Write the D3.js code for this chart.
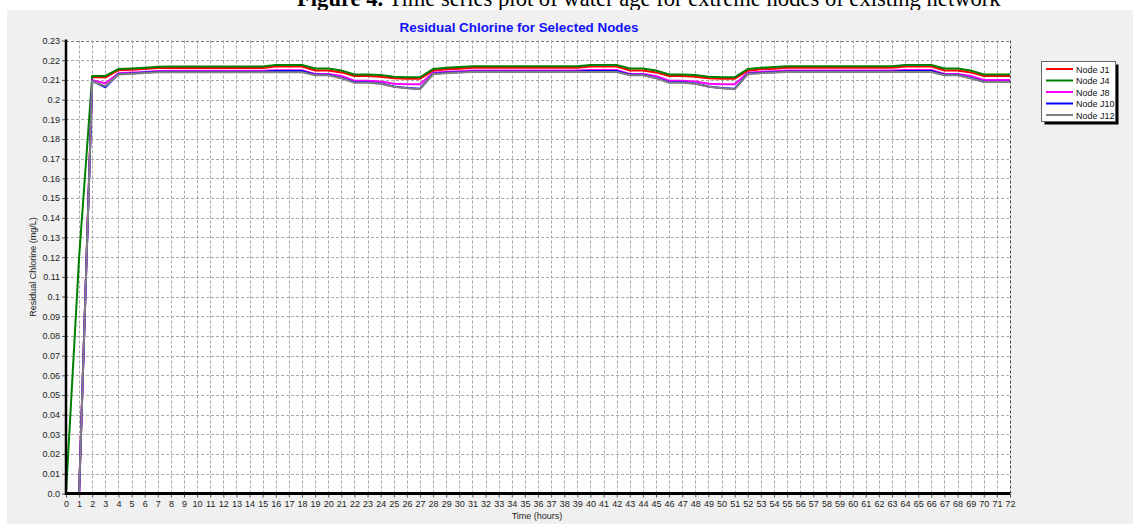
<!DOCTYPE html>
<html><head><meta charset="utf-8">
<script src="https://cdn.jsdelivr.net/npm/d3@7"></script>
<style>body{margin:0;background:#fff;overflow:hidden}svg{display:block}</style>
</head><body>
<svg id="c" width="1133" height="524"></svg>
<script>
const hours = [0,1,2,3,4,5,6,7,8,9,10,11,12,13,14,15,16,17,18,19,20,21,22,23,24,25,26,27,28,29,30,31,32,33,34,35,36,37,38,39,40,41,42,43,44,45,46,47,48,49,50,51,52,53,54,55,56,57,58,59,60,61,62,63,64,65,66,67,68,69,70,71,72];
const nodeJ1 = [0,0,0.2115,0.2112,0.2149,0.2152,0.2155,0.216,0.2161,0.2161,0.2161,0.2161,0.2161,0.2161,0.2161,0.2161,0.2168,0.2168,0.2168,0.2148,0.2148,0.2138,0.212,0.212,0.2116,0.2108,0.2106,0.2106,
 0.2147,0.2154,0.2157,0.2162,0.2162,0.2162,0.2162,0.2162,0.2162,0.2162,0.2162,0.2162,0.2168,0.2168,0.2168,0.2148,0.2148,0.2138,0.212,0.212,0.2116,0.2108,0.2106,0.2106,
 0.2147,0.2154,0.2157,0.2162,0.2162,0.2162,0.2162,0.2162,0.2162,0.2162,0.2162,0.2162,0.2168,0.2168,0.2168,0.2148,0.2148,0.2138,0.212,0.212,0.212];
const nodeJ4 = [0,0.12,0.212,0.212,0.2155,0.2158,0.2162,0.2167,0.2168,0.2168,0.2168,0.2168,0.2168,0.2168,0.2168,0.2168,0.2176,0.2176,0.2176,0.2158,0.2158,0.2148,0.2128,0.2128,0.2125,0.2116,0.2113,0.2113,
 0.2155,0.2162,0.2165,0.2169,0.2169,0.2169,0.2169,0.2169,0.2169,0.2169,0.2169,0.2169,0.2176,0.2176,0.2176,0.2158,0.2158,0.2148,0.2128,0.2128,0.2125,0.2116,0.2113,0.2113,
 0.2155,0.2162,0.2165,0.2169,0.2169,0.2169,0.2169,0.2169,0.2169,0.2169,0.2169,0.2169,0.2176,0.2176,0.2176,0.2158,0.2158,0.2148,0.2128,0.2128,0.2128];
const nodeJ8 = [0,0,0.2098,0.2083,0.2134,0.2137,0.214,0.2145,0.2147,0.2147,0.2147,0.2147,0.2147,0.2147,0.2147,0.2147,0.2149,0.2149,0.2149,0.213,0.213,0.212,0.2096,0.2096,0.2092,0.2081,0.2078,0.2078,
 0.2137,0.2141,0.2144,0.2148,0.2148,0.2148,0.2148,0.2148,0.2148,0.2148,0.2148,0.2148,0.215,0.215,0.215,0.213,0.213,0.212,0.2096,0.2096,0.2092,0.2081,0.2078,0.2078,
 0.2137,0.2141,0.2144,0.2148,0.2148,0.2148,0.2148,0.2148,0.2148,0.2148,0.2148,0.2148,0.215,0.215,0.215,0.213,0.213,0.212,0.2100,0.2100,0.2100];
const nodeJ10 = [0,0,0.2095,0.2062,0.213,0.2133,0.2137,0.2141,0.2141,0.2141,0.2141,0.2141,0.2141,0.2141,0.2141,0.2141,0.2145,0.2145,0.2145,0.2126,0.2126,0.211,0.2088,0.2088,0.2082,0.2067,0.2059,0.2055,
 0.2131,0.2136,0.2139,0.2142,0.2142,0.2142,0.2142,0.2142,0.2142,0.2142,0.2142,0.2142,0.2145,0.2145,0.2145,0.2126,0.2126,0.211,0.2088,0.2088,0.2082,0.2067,0.2059,0.2055,
 0.2131,0.2136,0.2139,0.2142,0.2142,0.2142,0.2142,0.2142,0.2142,0.2142,0.2142,0.2142,0.2145,0.2145,0.2145,0.2126,0.2126,0.211,0.2091,0.2091,0.2091];
const nodeJ12 = [0,0,0.2093,0.2069,0.2128,0.2131,0.2135,0.2139,0.2139,0.2139,0.2139,0.2139,0.2139,0.2139,0.2139,0.2139,0.2139,0.2139,0.2139,0.2124,0.2124,0.2108,0.2086,0.2086,0.208,0.2065,0.2057,0.2053,
 0.213,0.2134,0.2137,0.214,0.214,0.214,0.214,0.214,0.214,0.214,0.214,0.214,0.214,0.214,0.214,0.2124,0.2124,0.2108,0.2086,0.2086,0.208,0.2065,0.2057,0.2053,
 0.213,0.2134,0.2137,0.214,0.214,0.214,0.214,0.214,0.214,0.214,0.214,0.214,0.214,0.214,0.214,0.2124,0.2124,0.2108,0.2089,0.2089,0.2089];
const seriesNames = ["Node J1","Node J4","Node J8","Node J10","Node J12"];
const seriesColors = ["#ff0000","#008000","#ff00ff","#0000ff","#808080"];
const yTicks = [0,0.01,0.02,0.03,0.04,0.05,0.06,0.07,0.08,0.09,0.1,0.11,0.12,0.13,0.14,0.15,0.16,0.17,0.18,0.19,0.2,0.21,0.22,0.23];
const yTickLabels = ["0.0","0.01","0.02","0.03","0.04","0.05","0.06","0.07","0.08","0.09","0.1","0.11","0.12","0.13","0.14","0.15","0.16","0.17","0.18","0.19","0.2","0.21","0.22","0.23"];
const chartTitle = "Residual Chlorine for Selected Nodes";
const xTitle = "Time (hours)";
const yTitle = "Residual Chlorine (mg/L)";
const caption = ["Figure 4.", " Time series plot of water age for extreme nodes of existing network"];

const series = [nodeJ1,nodeJ4,nodeJ8,nodeJ10,nodeJ12];
const svg = d3.select("#c");
const L = 66, R = 1010, T = 40.5, B = 493.5;
const x = d3.scaleLinear().domain([0,72]).range([L,R]);
const y = d3.scaleLinear().domain([0,0.23]).range([B,T]);

// caption (cut off at top, as in the source figure)
const cap = svg.append("text").attr("x",297).attr("y",6).attr("font-family","Liberation Serif").attr("font-size",22.6).attr("fill","#000");
cap.append("tspan").attr("font-weight","bold").text(caption[0]);
cap.append("tspan").text(caption[1]);

// chart background
svg.append("rect").attr("x",7).attr("y",10).attr("width",1126).attr("height",514).attr("fill","#f0f0f0");
svg.append("rect").attr("x",L).attr("y",T).attr("width",R-L).attr("height",B-T).attr("fill","#fff");

// grid
const g = svg.append("g");
g.selectAll(".hg").data(yTicks.slice(1)).join("line")
  .attr("x1",L).attr("x2",R).attr("y1",d=>Math.round(y(d))+0.5).attr("y2",d=>Math.round(y(d))+0.5)
  .attr("stroke",d=>d===0.23?"#777":"#a8a8a8").attr("stroke-dasharray","3,2");
g.selectAll(".vg").data(hours.slice(1)).join("line")
  .attr("y1",T).attr("y2",B).attr("x1",d=>Math.round(x(d))+0.5).attr("x2",d=>Math.round(x(d))+0.5)
  .attr("stroke",d=>d===72?"#444":"#a8a8a8").attr("stroke-dasharray","3,2");

// lines
const line = d3.line().x((d,i)=>x(hours[i])).y(d=>y(d));
series.forEach((s,i)=>{
  svg.append("path").datum(s).attr("d",line).attr("fill","none")
    .attr("stroke",seriesColors[i]).attr("stroke-width",2).attr("stroke-linejoin","miter");
});

// axes
const font = "Liberation Sans";
const yAxis = svg.append("g").attr("transform",`translate(${L},0)`)
  .call(d3.axisLeft(y).tickValues(yTicks).tickFormat((d,i)=>yTickLabels[i]).tickSize(4).tickPadding(2));
const xAxis = svg.append("g").attr("transform",`translate(0,${B})`)
  .call(d3.axisBottom(x).tickValues(hours).tickSize(4).tickPadding(3));
[yAxis,xAxis].forEach(a=>{
  a.select(".domain").remove();
  a.selectAll("text").attr("font-family",font).attr("font-size",9).attr("fill","#222");
  a.selectAll(".tick line").attr("stroke","#555");
});
svg.append("line").attr("x1",L).attr("x2",L).attr("y1",T-1).attr("y2",B+1.5).attr("stroke","#000").attr("stroke-width",2.5);
svg.append("line").attr("x1",L-1).attr("x2",R).attr("y1",B).attr("y2",B).attr("stroke","#000").attr("stroke-width",3);

// titles
svg.append("text").attr("x",519).attr("y",32).attr("text-anchor","middle").attr("font-family",font)
  .attr("font-weight","bold").attr("font-size",13.4).attr("fill","#1010ff").text(chartTitle);
svg.append("text").attr("x",537).attr("y",519).attr("text-anchor","middle").attr("font-family",font)
  .attr("font-size",9).attr("fill","#222").text(xTitle);
svg.append("text").attr("transform",`translate(36,267) rotate(-90)`).attr("text-anchor","middle").attr("font-family",font)
  .attr("font-size",9).attr("fill","#222").text(yTitle);

// legend
const lg = svg.append("g");
lg.append("rect").attr("x",1044.5).attr("y",64.5).attr("width",74).attr("height",60).attr("fill","#000");
lg.append("rect").attr("x",1041.5).attr("y",61.5).attr("width",74).attr("height",60).attr("fill","#fff").attr("stroke","#666");
seriesNames.forEach((n,i)=>{
  const yy = 69 + i*11.5;
  lg.append("line").attr("x1",1046).attr("x2",1073).attr("y1",yy).attr("y2",yy).attr("stroke",seriesColors[i]).attr("stroke-width",2);
  lg.append("text").attr("x",1076).attr("y",yy+3.5).attr("font-family",font).attr("font-size",9).attr("fill","#111").text(n);
});
</script>
</body></html>
